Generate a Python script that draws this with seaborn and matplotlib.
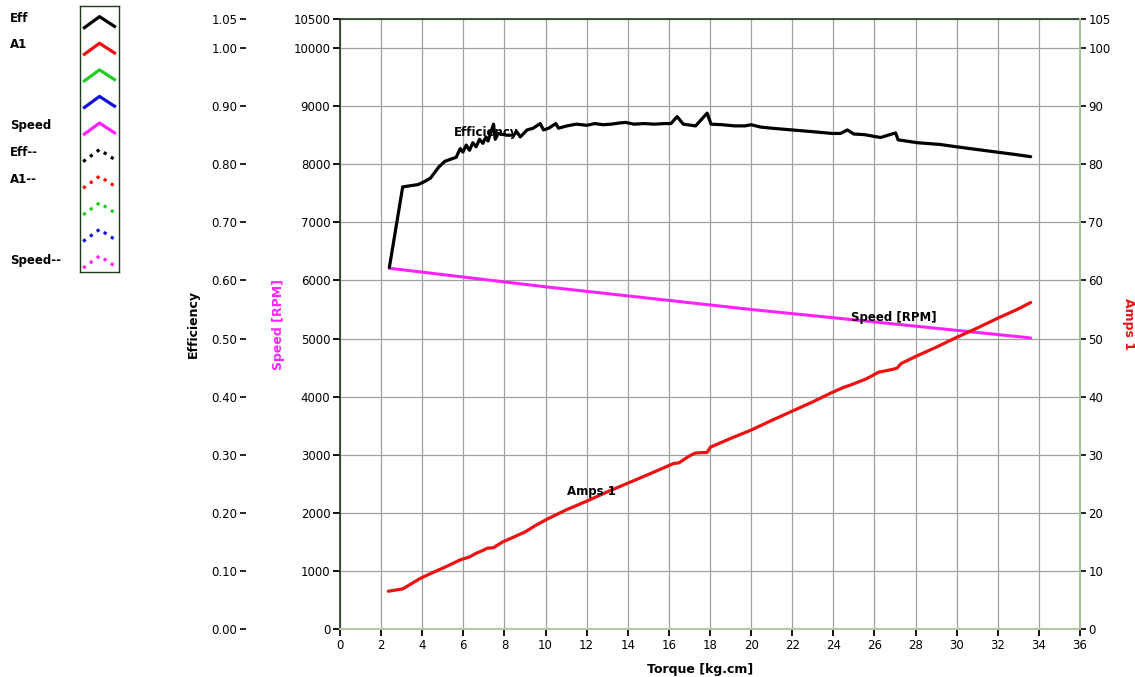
import numpy as np
import pandas as pd
import matplotlib
matplotlib.use("Agg")
import matplotlib.pyplot as plt
import seaborn as sns

# Motor test curves
torque_eff = [2.4, 3.05, 3.8, 4.1, 4.4, 4.8, 5.1, 5.65, 5.85, 5.98, 6.14, 6.3, 6.46,
              6.62, 6.79, 6.95, 7.1, 7.2, 7.47, 7.55, 7.7, 8.1, 8.45, 8.6, 8.77, 9.1,
              9.4, 9.74, 9.9, 10.15, 10.5, 10.63, 11.04, 11.5, 12.0, 12.4, 12.8, 13.2,
              13.6, 13.9, 14.3, 14.8, 15.3, 15.8, 16.1, 16.4, 16.7, 17.3, 17.86, 18.05,
              18.6, 19.2, 19.7, 20.0, 20.46, 21.0, 22.0, 23.0, 23.95, 24.35, 24.68, 25.0,
              25.5, 26.3, 27.03, 27.15, 28.1, 29.2, 30.0, 30.85, 31.5, 32.15, 32.8, 33.6]
efficiency = [0.622, 0.761, 0.765, 0.770, 0.776, 0.795, 0.805, 0.812, 0.827, 0.821, 0.833,
              0.824, 0.837, 0.830, 0.843, 0.836, 0.847, 0.840, 0.869, 0.843, 0.853, 0.850,
              0.850, 0.856, 0.847, 0.859, 0.862, 0.870, 0.859, 0.862, 0.870, 0.862, 0.866,
              0.869, 0.867, 0.870, 0.868, 0.869, 0.871, 0.872, 0.869, 0.870, 0.869, 0.870,
              0.870, 0.882, 0.869, 0.866, 0.888, 0.869, 0.868, 0.866, 0.866, 0.868, 0.864,
              0.862, 0.859, 0.856, 0.853, 0.853, 0.859, 0.852, 0.851, 0.846, 0.854, 0.842,
              0.837, 0.834, 0.830, 0.826, 0.823, 0.820, 0.817, 0.813]

torque_amps = [2.35, 3.05, 3.9, 4.5, 5.2, 5.85, 6.3, 6.6, 7.0, 7.15, 7.47, 7.6, 7.92, 8.5,
               9.0, 9.5, 10.07, 11.0, 12.0, 13.0, 14.0, 15.0, 16.24, 16.49, 17.0, 17.3,
               17.86, 18.02, 19.0, 19.97, 21.0, 22.0, 23.0, 23.87, 24.5, 24.84, 25.57,
               26.2, 26.9, 27.1, 27.3, 28.0, 29.0, 30.0, 31.0, 32.0, 33.0, 33.6]
amps = [6.5, 6.9, 8.7, 9.7, 10.8, 11.9, 12.4, 13.0, 13.6, 13.9, 14.0, 14.3, 15.0, 15.9,
        16.7, 17.8, 18.9, 20.5, 22.0, 23.6, 25.1, 26.6, 28.5, 28.6, 29.8, 30.3, 30.4,
        31.3, 32.8, 34.2, 35.9, 37.5, 39.1, 40.6, 41.6, 42.0, 43.0, 44.2, 44.7, 44.9,
        45.7, 46.9, 48.5, 50.2, 51.8, 53.5, 55.1, 56.2]

torque_speed = [2.4, 10.0, 20.0, 24.35, 33.6]
speed = [6210, 5890, 5500, 5345, 5010]

x_ticks = list(range(0, 37, 2))
speed_ticks = list(range(0, 10001, 1000)) + [10500]
eff_ticks = [i / 10 for i in range(0, 11)] + [1.05]
amps_ticks = list(range(0, 101, 10)) + [105]

legend_names = ["Eff", "A1", "", "", "Speed", "Eff--", "A1--", "", "", "Speed--"]
legend_colors = ["black", "#ee1111", "#22cc22", "#1111dd", "#ff22ff"] * 2

sns.set_style("white")
plt.rcParams['font.family'] = ['DejaVu Sans']
plt.rcParams['text.color'] = 'black'
plt.rcParams['axes.labelcolor'] = 'black'
plt.rcParams['xtick.color'] = 'black'
plt.rcParams['ytick.color'] = 'black'

fig = plt.figure(figsize=(11.35, 6.77), dpi=100)
ax = fig.add_axes([340 / 1135, 1 - 629 / 677, 740 / 1135, 610 / 677])
ax_eff = ax.twinx()
ax_amps = ax.twinx()

# speed axis (main)
ax.set_xlim(0, 36)
ax.set_ylim(0, 10500)
ax.set_xticks(x_ticks)
ax.set_yticks(speed_ticks)
ax.grid(True, color="#a0a0a0", lw=0.9)
ax.tick_params(axis="both", direction="out", length=5, width=1.3, labelsize=8.5,
               color="black", pad=2, left=True, bottom=True)
for side in ["left", "top"]:
    ax.spines[side].set_color("#1e3a1e")
    ax.spines[side].set_linewidth(1.2)
ax.spines["bottom"].set_color("#b4c8a8")
ax.spines["bottom"].set_linewidth(1.5)
ax.spines["right"].set_color("#a8c0a0")
ax.set_xlabel("Torque [kg.cm]", fontsize=9, fontweight="bold")
ax.xaxis.set_label_coords(0.486, -0.055)
ax.set_ylabel("Speed [RPM]", fontsize=9, fontweight="bold", color="#ff22ff")
ax.yaxis.set_label_coords(-0.074, 0.5)

# efficiency axis, offset to the left
ax_eff.set_ylim(0, 1.05)
ax_eff.set_yticks(eff_ticks)
ax_eff.set_yticklabels([f"{v:.2f}" for v in eff_ticks])
ax_eff.yaxis.set_ticks_position("left")
ax_eff.yaxis.set_label_position("left")
ax_eff.spines["left"].set_position(("outward", 68))
for side in ["left", "right", "top", "bottom"]:
    ax_eff.spines[side].set_visible(False)
ax_eff.tick_params(axis="y", direction="out", length=4, width=1.2, labelsize=8.5, pad=2)
ax_eff.set_ylabel("Efficiency", fontsize=9, fontweight="bold")
ax_eff.yaxis.set_label_coords(-0.189, 0.5)

# amps axis on the right
ax_amps.set_ylim(0, 105)
ax_amps.set_yticks(amps_ticks)
for side in ["left", "top", "bottom"]:
    ax_amps.spines[side].set_visible(False)
ax_amps.spines["right"].set_color("#a8c0a0")
ax_amps.spines["right"].set_linewidth(1.5)
ax_amps.tick_params(axis="y", direction="out", length=4, width=1.2, labelsize=8.5, pad=2)
ax_amps.set_ylabel("Amps 1", fontsize=9, fontweight="bold", color="#ee1111", rotation=-90,
                   labelpad=12)
ax_amps.yaxis.set_label_coords(1.074, 0.5)

sns.lineplot(x=torque_speed, y=speed, ax=ax, color="#ff22ff", lw=2.2,
             sort=False, estimator=None)
sns.lineplot(x=torque_eff, y=efficiency, ax=ax_eff, color="black", lw=2.3,
             sort=False, estimator=None)
sns.lineplot(x=torque_amps, y=amps, ax=ax_amps, color="#ee1111", lw=2.3,
             sort=False, estimator=None)
ax.set_xlim(0, 36)
ax.set_ylim(0, 10500)

ax_eff.text(5.55, 0.855, "Efficiency", fontsize=8.5, fontweight="bold", va="center")
ax.text(24.85, 5370, "Speed [RPM]", fontsize=8.5, fontweight="bold", va="center")
ax_amps.text(11.05, 23.6, "Amps 1", fontsize=8.5, fontweight="bold", va="center")

# legend panel on the left
lg = fig.add_axes([80 / 1135, 1 - 272 / 677, 39 / 1135, 266 / 677])
lg.set_xlim(0, 1)
lg.set_ylim(len(legend_names), 0)
lg.set_xticks([])
lg.set_yticks([])
for side in lg.spines:
    lg.spines[side].set_color("#1e3a1e")
    lg.spines[side].set_linewidth(1.0)
glyph_x = np.array([0.08, 0.5, 0.92])
glyph_y = np.array([0.75, 0.3, 0.7])
for i, (name, col) in enumerate(zip(legend_names, legend_colors)):
    style = "-" if i < 5 else ":"
    lg.plot(glyph_x, glyph_y + i + 0.1, color=col, lw=2.3, ls=style,
            solid_capstyle="butt")
    fig.text(10 / 1135, 1 - (18 + 26.9 * i) / 677, name, fontsize=8.5,
             fontweight="bold", va="center")

fig.savefig("out.png", dpi=100)
